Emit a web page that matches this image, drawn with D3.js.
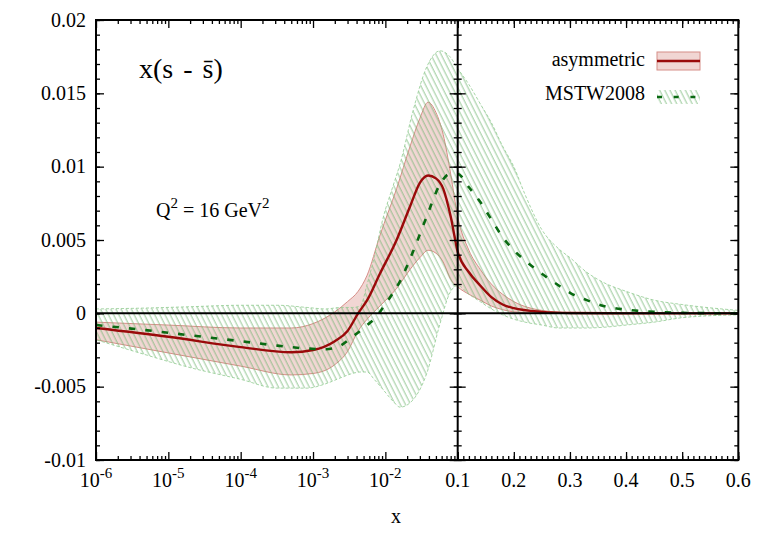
<!DOCTYPE html>
<html>
<head>
<meta charset="utf-8">
<script src="https://cdn.jsdelivr.net/npm/d3@7"></script>
<style>
  html, body { margin: 0; padding: 0; background: #fff; }
  svg { display: block; }
  text { font-family: "Liberation Serif", "Times New Roman", serif; fill: #000; }
</style>
</head>
<body>
<svg id="chart" width="764" height="535"></svg>
<script>
// ---------------- DATA ----------------
// asymmetric fit: x grid, central, upper and lower band
const asymX = [1e-6, 1e-5, 1e-4, 5e-4, 1e-3, 2e-3, 3e-3, 4.2e-3, 5.6e-3, 8.4e-3, 0.0143, 0.022, 0.03, 0.039, 0.05, 0.063, 0.08, 0.1,
               0.12, 0.14, 0.16, 0.18, 0.2, 0.25, 0.3, 0.4, 0.6];
const asymCentral = [-0.0010, -0.0016, -0.0023, -0.00265, -0.0025, -0.0019, -0.0012, 0.0, 0.0009, 0.0027, 0.0050, 0.0073, 0.0089, 0.0094, 0.0092, 0.0085, 0.0066, 0.0042,
               0.0028, 0.0019, 0.0011, 0.0006, 0.00035, 0.0001, 0.00002, 0.0, 0.0];
const asymUpper = [-0.0006, -0.0008, -0.0010, -0.0010, -0.0007, 0.0001, 0.0008, 0.0015, 0.0026, 0.0053, 0.0085, 0.0114, 0.0133, 0.0144, 0.0137, 0.0122, 0.0095, 0.0066,
               0.0043, 0.0030, 0.0020, 0.0013, 0.0008, 0.0002, 0.00005, 0.0, 0.0];
const asymLower = [-0.0018, -0.0027, -0.0036, -0.0042, -0.0041, -0.0035, -0.0026, -0.0012, -0.0004, 0.0005, 0.0017, 0.0030, 0.0038, 0.0043, 0.0041, 0.0035, 0.0023, 0.0018,
               0.0013, 0.0009, 0.0005, 0.00025, 0.0001, 0.0, 0.0, 0.0, 0.0];

// MSTW2008: x grid, central, upper and lower band
const mstwX = [1e-6, 4e-6, 2e-5, 1e-4, 3.2e-4, 8.3e-4, 1.5e-3, 2.4e-3, 3.5e-3, 4.5e-3, 5.6e-3, 7e-3, 9.3e-3, 0.0128, 0.016, 0.0241, 0.0373, 0.057, 0.078, 0.1,
               0.12, 0.14, 0.16, 0.18, 0.2, 0.22, 0.25, 0.28, 0.3, 0.33, 0.36, 0.4, 0.45, 0.5, 0.6];
const mstwCentral = [-0.0008, -0.0011, -0.0015, -0.0019, -0.0022, -0.0024, -0.00245, -0.0022, -0.0016, -0.0012, -0.0008, -0.0004, 0.0004, 0.0014, 0.0022, 0.0042, 0.0066, 0.0088, 0.0095, 0.0095,
               0.0086, 0.0076, 0.0064, 0.0052, 0.0043, 0.0036, 0.0027, 0.0019, 0.0014, 0.0009, 0.0005, 0.00025, 0.0001, 0.00003, 0.0];
const mstwUpper = [0.0003, 0.00035, 0.00045, 0.00055, 0.00055, 0.0004, 0.0003, 0.0004, 0.0004, 0.0005, 0.0020, 0.0038, 0.0065, 0.0087, 0.0102, 0.0138, 0.0168, 0.0179, 0.0175, 0.0167,
               0.0156, 0.0143, 0.0130, 0.0114, 0.0100, 0.0081, 0.0057, 0.0044, 0.0038, 0.0028, 0.0021, 0.0015, 0.0009, 0.0006, 0.0002];
const mstwLower = [-0.0018, -0.0027, -0.0037, -0.0045, -0.0051, -0.0051, -0.0048, -0.0044, -0.0041, -0.0040, -0.0040, -0.0045, -0.0052, -0.0060, -0.0064, -0.0059, -0.0041, -0.0007, 0.0014, 0.0019,
               0.0013, 0.0008, 0.0003, -0.0001, -0.0004, -0.0006, -0.0008, -0.0010, -0.0010, -0.0010, -0.00095, -0.0008, -0.0006, -0.0003, -0.0001];

// ticks and labels
const yTickVals = [-0.01, -0.005, 0, 0.005, 0.01, 0.015, 0.02];
const yTickLabels = ["-0.01", "-0.005", "0", "0.005", "0.01", "0.015", "0.02"];
const xLogTicks = [1e-6, 1e-5, 1e-4, 1e-3, 1e-2, 1e-1];
const xLogExponents = ["-6", "-5", "-4", "-3", "-2"];
const xLinTicks = [0.1, 0.2, 0.3, 0.4, 0.5, 0.6];
const xLinLabels = ["0.1", "0.2", "0.3", "0.4", "0.5", "0.6"];
const legendLabels = ["asymmetric", "MSTW2008"];

// ---------------- LAYOUT ----------------
const L = 96, R = 738.3, T = 20, B = 460, XM = 457.7;
const svg = d3.select("#chart");

const xLog = d3.scaleLog().domain([1e-6, 0.1]).range([L, XM]);
const xLin = d3.scaleLinear().domain([0.1, 0.6]).range([XM, R]);
const X = v => (v <= 0.1 ? xLog(v) : xLin(v));
const y = d3.scaleLinear().domain([-0.01, 0.02]).range([B, T]);

const defs = svg.append("defs");
const pat = defs.append("pattern").attr("id", "hatch")
  .attr("patternUnits", "userSpaceOnUse")
  .attr("width", 4.6).attr("height", 10)
  .attr("patternTransform", "rotate(-26.6)");
pat.append("line").attr("x1", 2).attr("y1", -1).attr("x2", 2).attr("y2", 11)
  .attr("stroke", "#6fb56f").attr("stroke-width", 0.75);
defs.append("clipPath").attr("id", "plotclip").append("rect")
  .attr("x", L).attr("y", T).attr("width", R - L).attr("height", B - T);

const pinkFill = "#f1d6d3", pinkEdge = "#d68e88", red = "#9a0a0a", green = "#0a6a12";

function bandArea(xs, lo, hi) {
  return d3.area().curve(d3.curveMonotoneX)
    .x((d, i) => X(xs[i])).y0((d, i) => y(lo[i])).y1((d, i) => y(hi[i]))(xs);
}
function centralLine(xs, ys) {
  return d3.line().curve(d3.curveMonotoneX)
    .x((d, i) => X(xs[i])).y((d, i) => y(ys[i]))(xs);
}

const plot = svg.append("g").attr("clip-path", "url(#plotclip)");

// asymmetric band
plot.append("path").attr("d", bandArea(asymX, asymLower, asymUpper))
  .attr("fill", pinkFill).attr("stroke", pinkEdge).attr("stroke-width", 1);
// MSTW hatched band
plot.append("path").attr("d", bandArea(mstwX, mstwLower, mstwUpper))
  .attr("fill", "url(#hatch)").attr("stroke", "#90cc90").attr("stroke-width", 0.8)
  .attr("stroke-dasharray", "3,2");

// zero line
svg.append("line").attr("x1", L).attr("x2", R).attr("y1", y(0)).attr("y2", y(0))
  .attr("stroke", "#000").attr("stroke-width", 2);

// central curves
plot.append("path").attr("d", centralLine(asymX, asymCentral))
  .attr("fill", "none").attr("stroke", red).attr("stroke-width", 2.4);
plot.append("path").attr("d", centralLine(mstwX, mstwCentral))
  .attr("fill", "none").attr("stroke", green).attr("stroke-width", 2.6)
  .attr("stroke-dasharray", "6.5,10");

// ---------------- AXES ----------------
function styleAxis(g) {
  g.select(".domain").remove();
  g.selectAll("line").attr("stroke", "#000").attr("stroke-width", 1.3);
  g.selectAll("text").remove();
}
const logMinor = [];
for (let e = -6; e < -1; e++) for (let k = 2; k <= 9; k++) logMinor.push(k * Math.pow(10, e));
const linMinor = d3.range(0, 51).map(i => 0.1 + i * 0.01);
const yMinor = d3.range(0, 31).map(i => -0.01 + i * 0.001);

// bottom / top, log panel
svg.append("g").attr("transform", `translate(0,${B})`)
  .call(d3.axisBottom(xLog).tickValues(xLogTicks).tickSize(-8)).call(styleAxis);
svg.append("g").attr("transform", `translate(0,${B})`)
  .call(d3.axisBottom(xLog).tickValues(logMinor).tickSize(-4)).call(styleAxis);
svg.append("g").attr("transform", `translate(0,${T})`)
  .call(d3.axisTop(xLog).tickValues(xLogTicks).tickSize(-8)).call(styleAxis);
svg.append("g").attr("transform", `translate(0,${T})`)
  .call(d3.axisTop(xLog).tickValues(logMinor).tickSize(-4)).call(styleAxis);
// bottom / top, linear panel
svg.append("g").attr("transform", `translate(0,${B})`)
  .call(d3.axisBottom(xLin).tickValues(xLinTicks).tickSize(-8)).call(styleAxis);
svg.append("g").attr("transform", `translate(0,${B})`)
  .call(d3.axisBottom(xLin).tickValues(linMinor).tickSize(-4)).call(styleAxis);
svg.append("g").attr("transform", `translate(0,${T})`)
  .call(d3.axisTop(xLin).tickValues(xLinTicks).tickSize(-8)).call(styleAxis);
svg.append("g").attr("transform", `translate(0,${T})`)
  .call(d3.axisTop(xLin).tickValues(linMinor).tickSize(-4)).call(styleAxis);

// y ticks: left border, middle line (both sides), right border
function yTicks(x, axisFn, size) {
  svg.append("g").attr("transform", `translate(${x},0)`)
    .call(axisFn(y).tickValues(yTickVals).tickSize(size * 8)).call(styleAxis);
  svg.append("g").attr("transform", `translate(${x},0)`)
    .call(axisFn(y).tickValues(yMinor).tickSize(size * 4)).call(styleAxis);
}
yTicks(L, d3.axisLeft, -1);
yTicks(XM, d3.axisLeft, 1);
yTicks(XM, d3.axisRight, 1);
yTicks(R, d3.axisRight, -1);

// frame and middle line
svg.append("rect").attr("x", L).attr("y", T).attr("width", R - L).attr("height", B - T)
  .attr("fill", "none").attr("stroke", "#000").attr("stroke-width", 2);
svg.append("line").attr("x1", XM).attr("x2", XM).attr("y1", T).attr("y2", B)
  .attr("stroke", "#000").attr("stroke-width", 2);

// y labels
svg.append("g").selectAll("text").data(yTickVals).join("text")
  .attr("x", L - 10).attr("y", d => y(d)).attr("dy", "0.34em")
  .attr("text-anchor", "end").attr("font-size", 20)
  .text((d, i) => yTickLabels[i]);

// x labels, log panel
const xl = svg.append("g").selectAll("text").data(xLogTicks.slice(0, 5)).join("text")
  .attr("x", d => xLog(d)).attr("y", 487).attr("text-anchor", "middle").attr("font-size", 20);
xl.append("tspan").text("10");
xl.append("tspan").attr("dy", -9).attr("font-size", 15).text((d, i) => xLogExponents[i]);
// x labels, linear panel
svg.append("g").selectAll("text").data(xLinTicks).join("text")
  .attr("x", d => xLin(d)).attr("y", 487).attr("text-anchor", "middle").attr("font-size", 20)
  .text((d, i) => xLinLabels[i]);

// axis title
svg.append("text").attr("x", 396).attr("y", 523).attr("text-anchor", "middle")
  .attr("font-size", 20).text("x");

// panel title
svg.append("text").attr("x", 139).attr("y", 78).attr("font-size", 28)
  .attr("word-spacing", 3).text("x(s - s\u0304)");

// Q^2 annotation
const q = svg.append("text").attr("x", 156).attr("y", 217).attr("font-size", 20);
q.append("tspan").text("Q");
q.append("tspan").attr("dy", -9).attr("font-size", 15).text("2");
q.append("tspan").attr("dy", 9).text(" = 16 GeV");
q.append("tspan").attr("dy", -9).attr("font-size", 15).text("2");

// ---------------- LEGEND ----------------
const lg = svg.append("g");
lg.append("text").attr("x", 645).attr("y", 66).attr("text-anchor", "end").attr("font-size", 20).text(legendLabels[0]);
lg.append("text").attr("x", 645).attr("y", 100).attr("text-anchor", "end").attr("font-size", 20).text(legendLabels[1]);
lg.append("rect").attr("x", 657).attr("y", 52).attr("width", 43).attr("height", 18)
  .attr("fill", pinkFill).attr("stroke", pinkEdge).attr("stroke-width", 1);
lg.append("line").attr("x1", 657).attr("x2", 700).attr("y1", 61).attr("y2", 61)
  .attr("stroke", red).attr("stroke-width", 2.4);
lg.append("rect").attr("x", 657).attr("y", 90).attr("width", 43).attr("height", 14)
  .attr("fill", "url(#hatch)");
lg.append("line").attr("x1", 657).attr("x2", 700).attr("y1", 97).attr("y2", 97)
  .attr("stroke", green).attr("stroke-width", 2.6).attr("stroke-dasharray", "5,11.7");
</script>
</body>
</html>
